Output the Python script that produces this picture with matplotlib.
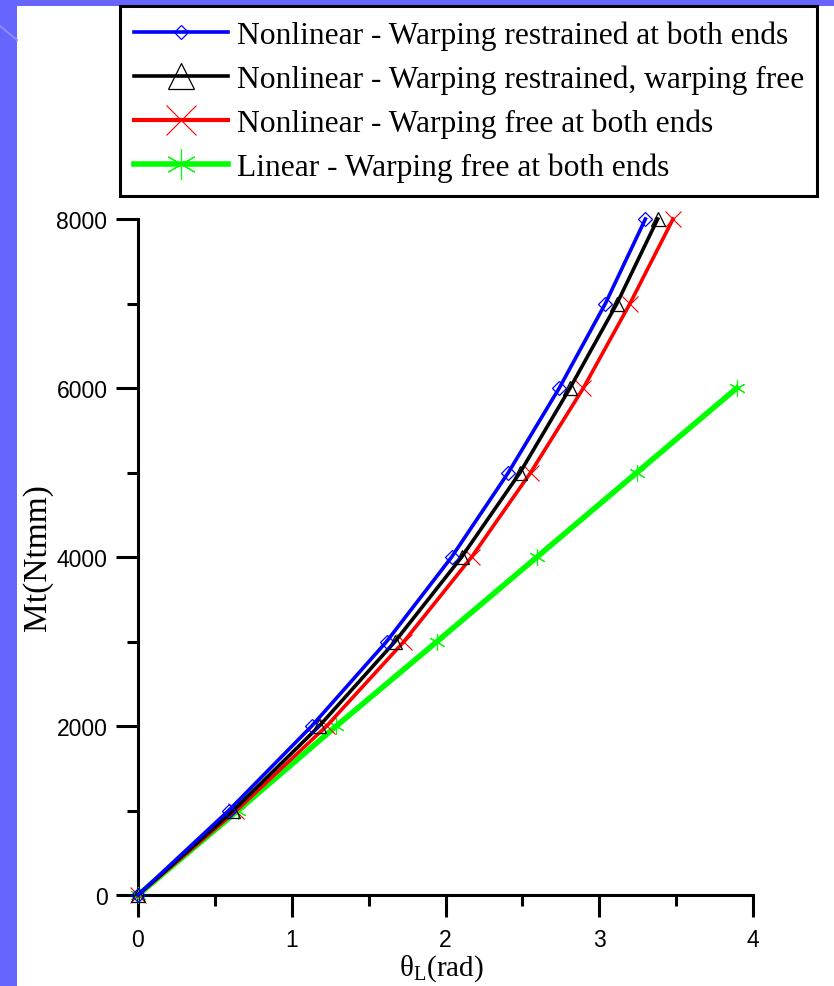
import matplotlib
matplotlib.use("Agg")
import matplotlib.pyplot as plt
from matplotlib.patches import Rectangle
from matplotlib.lines import Line2D
from matplotlib.ticker import MultipleLocator

plt.rcParams['mathtext.fontset'] = 'custom'
plt.rcParams['mathtext.rm'] = 'Liberation Serif'

# ---------------- data ----------------
mt_nl = [0, 1000, 2000, 3000, 4000, 5000, 6000, 7000, 8000]
mt_lin = [0, 1000, 2000, 3000, 4000, 5000, 6000]

theta_restr_both = [0, 0.59, 1.13, 1.617, 2.04, 2.409, 2.74, 3.04, 3.30]
theta_restr_free = [0, 0.62, 1.179, 1.672, 2.105, 2.485, 2.81, 3.115, 3.38]
theta_free_both = [0, 0.64, 1.227, 1.73, 2.17, 2.554, 2.897, 3.20, 3.48]
theta_linear = [0, 0.65, 1.29, 1.945, 2.595, 3.245, 3.895]

labels = ["Nonlinear - Warping restrained at both ends",
          "Nonlinear - Warping restrained, warping free",
          "Nonlinear - Warping free at both ends",
          "Linear - Warping free at both ends"]

W, H = 834, 987
fig = plt.figure(figsize=(W / 100, H / 100), dpi=100)
fig.patch.set_facecolor('#6666FF')
fig.add_artist(Rectangle((17 / W, 0), 1, (H - 7) / H, transform=fig.transFigure,
                         facecolor='white', edgecolor='none', zorder=-5))
fig.add_artist(Line2D([0, 17 / W], [1 - 27 / H, 1 - 41 / H], transform=fig.transFigure,
                      color='#8C8CFF', lw=1.5, zorder=-4))

ax = fig.add_axes([138 / W, 1 - 896 / H, (753 - 138) / W, (896 - 220) / H])
ax.set_facecolor('none')

l4, = ax.plot(theta_linear, mt_lin, color='#00FF00', lw=4.0, marker=(6, 2, 0),
              ms=12, mew=0.8, clip_on=False, zorder=3)
l3, = ax.plot(theta_free_both, mt_nl, color='#FF0000', lw=2.6, marker='x',
              ms=11, mew=0.8, clip_on=False, zorder=4)
l2, = ax.plot(theta_restr_free, mt_nl, color='black', lw=2.6, marker='^',
              ms=10, mew=0.9, mfc='none', clip_on=False, zorder=5)
l1, = ax.plot(theta_restr_both, mt_nl, color='#0000FF', lw=2.6, marker='D',
              ms=7.5, mew=0.9, mfc='none', clip_on=False, zorder=6)

ax.set_xlim(0, 4)
ax.set_ylim(0, 8000)
ax.xaxis.set_major_locator(MultipleLocator(1))
ax.xaxis.set_minor_locator(MultipleLocator(0.5))
ax.yaxis.set_major_locator(MultipleLocator(2000))
ax.yaxis.set_minor_locator(MultipleLocator(1000))
for s in ['top', 'right']:
    ax.spines[s].set_visible(False)
for s in ['left', 'bottom']:
    ax.spines[s].set_linewidth(2.2)
ax.tick_params(which='major', direction='out', length=16, width=2.2,
               labelsize=16.5, pad=6)
ax.tick_params(which='minor', direction='out', length=8, width=2.2)
ax.tick_params(axis='x', which='major', pad=8)
for t in ax.get_xticklabels() + ax.get_yticklabels():
    t.set_fontfamily('Liberation Sans')

ax.set_xlabel('θ$_{\\mathregular{L}}$(rad)', fontsize=21, family='Liberation Serif', va='top')
ax.xaxis.set_label_coords(0.494, -0.085)
ax.set_ylabel('Mt(Ntmm)', fontsize=24, family='Liberation Serif', va='center')
ax.yaxis.set_label_coords(-0.164, 0.5)

leg = fig.legend([l1, l2, l3, l4], labels, loc='upper left',
                 bbox_to_anchor=(120 / W, 0.8, (817 - 120) / W, 1 - 7 / H - 0.8),
                 mode='expand', prop={'family': 'Liberation Serif', 'size': 22.7},
                 frameon=True, fancybox=False, framealpha=1, edgecolor='black',
                 borderpad=0.45, labelspacing=0.46, handlelength=2.96,
                 handletextpad=0.3, borderaxespad=0)
leg.get_frame().set_linewidth(2.2)
hs = leg.legend_handles
hs[1].set_markersize(19)
hs[2].set_markersize(21)
hs[3].set_markersize(22)
hs[2].set_linewidth(3.0)

fig.savefig('out.png', dpi=100, facecolor=fig.get_facecolor())
